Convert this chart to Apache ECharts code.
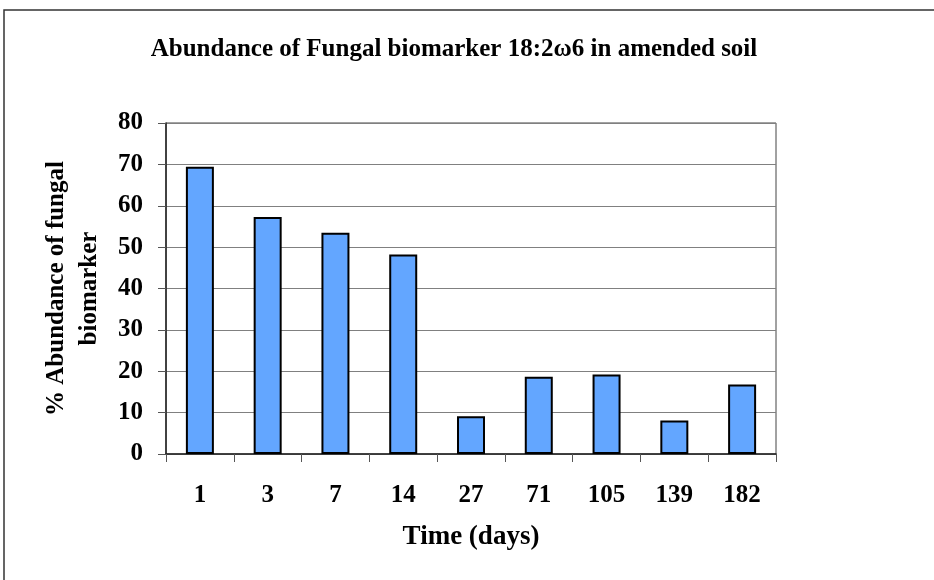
<!DOCTYPE html>
<html>
<head>
<meta charset="utf-8">
<script src="https://cdn.jsdelivr.net/npm/echarts@6/dist/echarts.min.js"></script>
<style>
  html, body { margin: 0; padding: 0; background: #fff; }
  #chart { width: 934px; height: 580px; }
</style>
</head>
<body>
<div id="chart"></div>
<script>
// data
const days = ["1", "3", "7", "14", "27", "71", "105", "139", "182"];
const abundance = [69.4, 57.3, 53.5, 48.2, 9.1, 18.7, 19.2, 8.1, 16.8];
const yTicks = { min: 0, max: 80, interval: 10 };

const serif = '"Liberation Serif", "DejaVu Serif", serif';

const myChart = echarts.init(document.getElementById("chart"));

const option = {
  backgroundColor: "#fff",
  animation: false,
  title: {
    text: "Abundance of Fungal biomarker 18:2\u03c96 in amended soil",
    left: 449,
    textAlign: "center",
    top: 32,
    textStyle: { fontFamily: serif, fontWeight: "bold", fontSize: 25, color: "#000" }
  },
  graphic: [{
    type: "rect",
    shape: { x: 4, y: 10, width: 940, height: 600 },
    style: { fill: "none", stroke: "#333", lineWidth: 1.5 },
    silent: true
  }],
  grid: {
    left: 166,
    right: 158,
    top: 123,
    bottom: 126,
    show: true,
    borderColor: "#444",
    borderWidth: 1
  },
  xAxis: {
    type: "category",
    data: days,
    name: "Time (days)",
    nameLocation: "middle",
    nameGap: 70,
    nameTextStyle: { fontFamily: serif, fontWeight: "bold", fontSize: 27, color: "#000" },
    axisLine: { lineStyle: { color: "#222", width: 1.5 } },
    axisTick: { show: true, alignWithLabel: false, length: 8, lineStyle: { color: "#555" } },
    axisLabel: { margin: 29, fontFamily: serif, fontWeight: "bold", fontSize: 25, color: "#000" }
  },
  yAxis: {
    type: "value",
    min: yTicks.min,
    max: yTicks.max,
    interval: yTicks.interval,
    name: "% Abundance of fungal\nbiomarker",
    nameLocation: "middle",
    nameRotate: 90,
    nameGap: 60,
    nameTextStyle: { fontFamily: serif, fontWeight: "bold", fontSize: 25, lineHeight: 33, color: "#000" },
    axisLine: { show: true, lineStyle: { color: "#222", width: 1.5 } },
    axisTick: { show: true, length: 8, lineStyle: { color: "#555" } },
    axisLabel: { margin: 23, fontFamily: serif, fontWeight: "bold", fontSize: 25, color: "#000" },
    splitLine: { show: true, lineStyle: { color: "#808080", width: 1 } }
  },
  series: [{
    type: "bar",
    data: abundance,
    barWidth: 28,
    itemStyle: { color: "#63a6ff", borderColor: "#000", borderWidth: 2 }
  }]
};

myChart.setOption(option);
</script>
</body>
</html>
